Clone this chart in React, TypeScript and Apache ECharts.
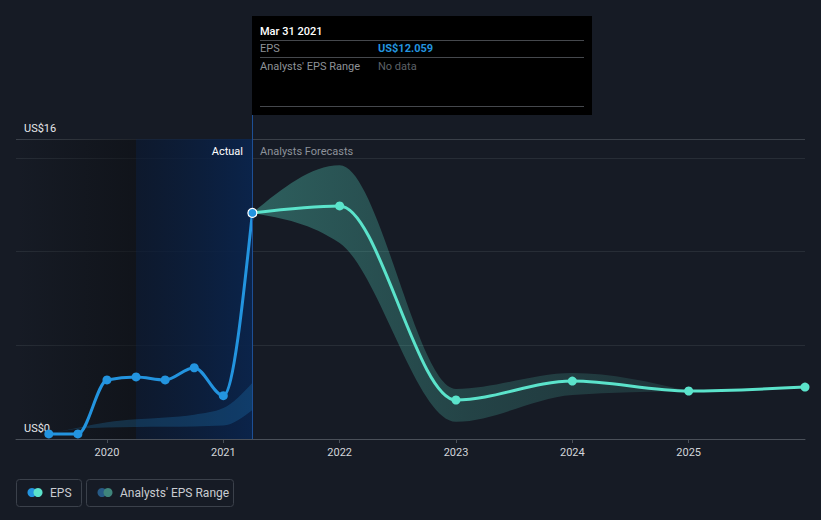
import React, { useEffect, useRef } from "react";
import * as echarts from "echarts";

// ---- data ----
const actualX = [2019.5, 2019.75, 2020.0, 2020.25, 2020.5, 2020.75, 2021.0, 2021.25];
const actualEps = [0.27, 0.27, 3.15, 3.31, 3.15, 3.8, 2.31, 12.059];

const pastRangeLow = [0.27, 0.55, 0.62, 0.64, 0.65, 0.67, 0.72, 1.55];
const pastRangeHigh = [0.27, 0.6, 0.9, 1.05, 1.15, 1.3, 1.65, 3.0];

const forecastX = [2021.25, 2022, 2023, 2024, 2025, 2026];
const forecastEps = [12.059, 12.43, 2.08, 3.09, 2.56, 2.77];

const rangeX = [2021.25, 2022, 2023, 2024, 2025];
const rangeLow = [12.059, 10.45, 0.92, 2.35, 2.56];
const rangeHigh = [12.059, 14.6, 2.67, 3.52, 2.56];

const yearTicks = [2020, 2021, 2022, 2023, 2024, 2025];
const xMin = 2019.218;
const xMax = 2026;
const todayX = 2021.25;
const pastShadeStart = 2020.25;

const FONT = "Roboto, 'Noto Sans', sans-serif";
const BG = "#161b25";
const BLUE = "#2394df";
const TEAL = "#5be3cb";

type P = [number, number];

// monotone-x cubic tangents (drawing helper, pixel space)
function tangents(pts: P[]): number[] {
  const n = pts.length;
  const t: number[] = new Array(n).fill(0);
  if (n < 2) return t;
  const sgn = (v: number) => (v < 0 ? -1 : 1);
  for (let i = 1; i < n - 1; i++) {
    const [x0, y0] = pts[i - 1];
    const [x1, y1] = pts[i];
    const [x2, y2] = pts[i + 1];
    const h0 = x1 - x0, h1 = x2 - x1;
    const s0 = (y1 - y0) / (h0 || 1e-9);
    const s1 = (y2 - y1) / (h1 || 1e-9);
    const p = (s0 * h1 + s1 * h0) / (h0 + h1 || 1e-9);
    t[i] = (sgn(s0) + sgn(s1)) * Math.min(Math.abs(s0), Math.abs(s1), 0.5 * Math.abs(p)) || 0;
  }
  const end = (a: P, b: P, tt: number) => {
    const h = b[0] - a[0];
    return h ? (3 * (b[1] - a[1]) / h - tt) / 2 : tt;
  };
  if (n > 2) {
    t[0] = end(pts[0], pts[1], t[1]);
    t[n - 1] = end(pts[n - 1], pts[n - 2], t[n - 2]);
  } else {
    t[0] = t[1] = (pts[1][1] - pts[0][1]) / (pts[1][0] - pts[0][0] || 1e-9);
  }
  return t;
}

function curveForward(pts: P[], start: boolean): string {
  const t = tangents(pts);
  let d = start ? `M${pts[0][0]},${pts[0][1]}` : "";
  for (let i = 0; i < pts.length - 1; i++) {
    const [x0, y0] = pts[i];
    const [x1, y1] = pts[i + 1];
    const dx = (x1 - x0) / 3;
    d += ` C${x0 + dx},${y0 + dx * t[i]} ${x1 - dx},${y1 - dx * t[i + 1]} ${x1},${y1}`;
  }
  return d;
}

function curveBackward(pts: P[]): string {
  const t = tangents(pts);
  const m = pts.length - 1;
  let d = ` L${pts[m][0]},${pts[m][1]}`;
  for (let i = m; i > 0; i--) {
    const [x1, y1] = pts[i];
    const [x0, y0] = pts[i - 1];
    const dx = (x1 - x0) / 3;
    d += ` C${x1 - dx},${y1 - dx * t[i]} ${x0 + dx},${y0 + dx * t[i - 1]} ${x0},${y0}`;
  }
  return d;
}

function bandSeries(xs: number[], lo: number[], hi: number[], fill: any) {
  return {
    type: "custom",
    silent: true,
    z: 1,
    clip: true,
    data: [[xs[0], lo[0]]],
    encode: { x: 0, y: 1 },
    renderItem: (_p: any, api: any) => {
      const up: P[] = xs.map((x, i) => api.coord([x, hi[i]]) as P);
      const dn: P[] = xs.map((x, i) => api.coord([x, lo[i]]) as P);
      return {
        type: "path",
        shape: { pathData: curveForward(up, true) + curveBackward(dn) + " Z" },
        style: { fill, stroke: "none" },
      };
    },
  };
}

function curveSeries(xs: number[], ys: number[], color: string, z: number) {
  return {
    type: "custom",
    silent: true,
    z,
    clip: true,
    data: [[xs[0], ys[0]]],
    encode: { x: 0, y: 1 },
    renderItem: (_p: any, api: any) => {
      const pts: P[] = xs.map((x, i) => api.coord([x, ys[i]]) as P);
      return {
        type: "path",
        shape: { pathData: curveForward(pts, true) },
        style: { fill: "none", stroke: color, lineWidth: 3, lineJoin: "round", lineCap: "round" },
      };
    },
  };
}

export default function App() {
  const ref = useRef<HTMLDivElement>(null);
  useEffect(() => {
    if (!ref.current) return;
    const chart = echarts.init(ref.current, null, { renderer: "svg" });

    const option: any = {
      animation: false,
      backgroundColor: BG,
      textStyle: { fontFamily: FONT },
      grid: { left: 16, right: 16, top: 139, bottom: 81, containLabel: false },
      xAxis: {
        type: "value",
        min: xMin,
        max: xMax,
        splitLine: { show: false },
        axisLine: { lineStyle: { color: "#4a5059", width: 1 } },
        axisTick: { show: true, customValues: yearTicks, length: 4, lineStyle: { color: "#4a5059" } },
        axisLabel: {
          customValues: yearTicks,
          color: "#d2d5da",
          fontSize: 11,
          margin: 8,
          fontFamily: FONT,
          formatter: (v: number) => String(Math.round(v)),
        },
      },
      yAxis: {
        type: "value",
        min: 0,
        max: 16,
        interval: 5,
        axisLine: { show: false },
        axisTick: { show: false },
        splitLine: {
          lineStyle: { color: ["#3a4049", "#272d36", "#272d36", "#272d36", "#3a4049"], width: 1 },
        },
        axisLabel: {
          inside: true,
          margin: 8,
          color: "#e6e8eb",
          fontSize: 11,
          fontFamily: FONT,
          verticalAlign: "bottom",
          padding: [0, 0, 5, 0],
          formatter: (v: number) => (v === 0 ? "US$0" : v === 16 ? "US$16" : ""),
        },
      },
      series: [
        {
          type: "line",
          data: [],
          silent: true,
          z: 0,
          markArea: {
            silent: true,
            z: 0,
            data: [
              [
                {
                  xAxis: xMin,
                  itemStyle: {
                    color: {
                      type: "linear", x: 0, y: 0, x2: 1, y2: 0,
                      colorStops: [
                        { offset: 0, color: "rgba(12,14,18,0)" },
                        { offset: 1, color: "rgba(12,14,18,0.55)" },
                      ],
                    },
                  },
                },
                { xAxis: pastShadeStart },
              ],
              [
                {
                  xAxis: pastShadeStart,
                  itemStyle: {
                    color: {
                      type: "linear", x: 0, y: 0, x2: 1, y2: 0,
                      colorStops: [
                        { offset: 0, color: "rgba(10,24,48,0.7)" },
                        { offset: 1, color: "rgba(10,36,76,0.95)" },
                      ],
                    },
                  },
                },
                { xAxis: todayX },
              ],
            ],
          },
        },
        bandSeries(actualX, pastRangeLow, pastRangeHigh, "rgba(35,148,223,0.22)"),
        bandSeries(rangeX, rangeLow, rangeHigh, {
          type: "linear", x: 0, y: 0, x2: 1, y2: 0,
          colorStops: [
            { offset: 0, color: "rgba(91,227,203,0.34)" },
            { offset: 0.5, color: "rgba(91,227,203,0.2)" },
            { offset: 1, color: "rgba(91,227,203,0.12)" },
          ],
        }),
        curveSeries(forecastX, forecastEps, TEAL, 3),
        curveSeries(actualX, actualEps, BLUE, 4),
        {
          name: "Forecast",
          type: "line",
          data: forecastX.map((x, i) =>
            i === 0 ? { value: [x, forecastEps[i]], symbol: "none" } : [x, forecastEps[i]]
          ),
          symbol: "circle",
          symbolSize: 9,
          showAllSymbol: true,
          lineStyle: { width: 0, opacity: 0 },
          itemStyle: { color: TEAL },
          z: 5,
        },
        {
          name: "EPS",
          type: "line",
          data: actualX.map((x, i) =>
            i === actualX.length - 1
              ? { value: [x, actualEps[i]], symbolSize: 9, itemStyle: { color: BLUE, borderColor: "#ffffff", borderWidth: 1.2 } }
              : [x, actualEps[i]]
          ),
          symbol: "circle",
          symbolSize: 9,
          showAllSymbol: true,
          lineStyle: { width: 0, opacity: 0 },
          itemStyle: { color: BLUE },
          z: 6,
          markLine: {
            silent: true,
            symbol: "none",
            label: { show: false },
            lineStyle: { color: "#1d4f95", width: 1, type: "solid", opacity: 1 },
            data: [{ xAxis: todayX }],
          },
        },
      ],
      graphic: [
        { type: "line", shape: { x1: 252.5, y1: 115, x2: 252.5, y2: 139 }, style: { stroke: "#1d4f95", lineWidth: 1 }, z: 10 },
        { type: "text", x: 243, y: 151, style: { text: "Actual", fill: "#ffffff", font: `11px ${FONT}`, textAlign: "right", textVerticalAlign: "middle" }, z: 10 },
        { type: "text", x: 260, y: 151, style: { text: "Analysts Forecasts", fill: "#8d929a", font: `11px ${FONT}`, textAlign: "left", textVerticalAlign: "middle" }, z: 10 },
        { type: "rect", shape: { x: 252, y: 16, width: 340, height: 99 }, style: { fill: "#000000" }, z: 20 },
        { type: "text", x: 260, y: 31, style: { text: "Mar 31 2021", fill: "#ffffff", font: `500 11px ${FONT}`, textVerticalAlign: "middle" }, z: 21 },
        { type: "line", shape: { x1: 260, y1: 40.5, x2: 584, y2: 40.5 }, style: { stroke: "#45484d", lineWidth: 1 }, z: 21 },
        { type: "text", x: 260, y: 48, style: { text: "EPS", fill: "#8e9297", font: `11px ${FONT}`, textVerticalAlign: "middle" }, z: 21 },
        { type: "text", x: 378, y: 48, style: { text: "US$12.059", fill: BLUE, font: `bold 11px ${FONT}`, textVerticalAlign: "middle" }, z: 21 },
        { type: "line", shape: { x1: 260, y1: 57.5, x2: 584, y2: 57.5 }, style: { stroke: "#45484d", lineWidth: 1 }, z: 21 },
        { type: "text", x: 260, y: 66, style: { text: "Analysts' EPS Range", fill: "#8e9297", font: `11px ${FONT}`, textVerticalAlign: "middle" }, z: 21 },
        { type: "text", x: 378, y: 66, style: { text: "No data", fill: "#5d6167", font: `11px ${FONT}`, textVerticalAlign: "middle" }, z: 21 },
        { type: "line", shape: { x1: 260, y1: 106.5, x2: 584, y2: 106.5 }, style: { stroke: "#45484d", lineWidth: 1 }, z: 21 },
        { type: "rect", shape: { x: 16.5, y: 479.5, width: 65, height: 27, r: 3 }, style: { fill: "none", stroke: "#3b414b", lineWidth: 1 }, z: 10 },
        { type: "circle", shape: { cx: 32, cy: 492.5, r: 4.5 }, style: { fill: BLUE }, z: 10 },
        { type: "circle", shape: { cx: 38, cy: 492.5, r: 4.5 }, style: { fill: TEAL }, z: 11 },
        { type: "text", x: 50, y: 493, style: { text: "EPS", fill: "#c9ccd1", font: `12px ${FONT}`, textVerticalAlign: "middle" }, z: 10 },
        { type: "rect", shape: { x: 86.5, y: 479.5, width: 147, height: 27, r: 3 }, style: { fill: "none", stroke: "#3b414b", lineWidth: 1 }, z: 10 },
        { type: "circle", shape: { cx: 102, cy: 492.5, r: 4.5 }, style: { fill: "#275a85" }, z: 10 },
        { type: "circle", shape: { cx: 108, cy: 492.5, r: 4.5 }, style: { fill: "#3f857b" }, z: 11 },
        { type: "text", x: 120, y: 493, style: { text: "Analysts' EPS Range", fill: "#c9ccd1", font: `12px ${FONT}`, textVerticalAlign: "middle" }, z: 10 },
      ],
    };
    chart.setOption(option);
    return () => chart.dispose();
  }, []);
  return <div ref={ref} style={{ width: 821, height: 520, position: "fixed", left: 0, top: 0 }} />;
}
